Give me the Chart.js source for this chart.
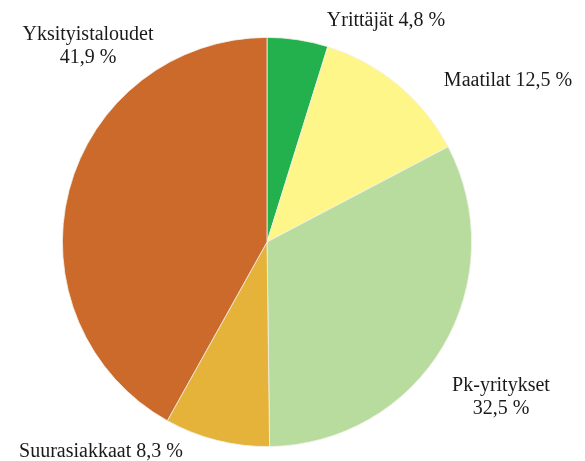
<!DOCTYPE html>
<html>
<head>
<meta charset="utf-8">
<script src="https://cdn.jsdelivr.net/npm/chart.js@4.4.0/dist/chart.umd.min.js"></script>
<style>
  html, body { margin: 0; padding: 0; background: #fff; }
  #wrap { width: 585px; height: 461px; }
</style>
</head>
<body>
<div id="wrap"><canvas id="chartPie"></canvas></div>
<script>
const categories = ['Yrittäjät', 'Maatilat', 'Pk-yritykset', 'Suurasiakkaat', 'Yksityistaloudet'];
const shares = [4.8, 12.5, 32.5, 8.3, 41.9];
const colors = ['#23b14d', '#fff68a', '#b7dc9d', '#e5b23a', '#cb6a2b'];

// label text lines per slice (Finnish decimal comma)
function labelLines(i) {
    const pct = shares[i].toFixed(1).replace('.', ',') + ' %';
    if (i === 2 || i === 4) return [categories[i], pct];
    return [categories[i] + ' ' + pct];
}

// where each label sits (center x, center y of first line)
const labelPos = [
    { x: 386, y: 21 },
    { x: 508, y: 81 },
    { x: 501, y: 386 },
    { x: 101, y: 452 },
    { x: 88, y: 35 }
];

const sliceLabels = {
    id: 'sliceLabels',
    afterDraw(chart) {
        const ctx = chart.ctx;
        ctx.save();
        ctx.font = '20px "Liberation Serif", "DejaVu Serif", serif';
        ctx.fillStyle = '#1a1a1a';
        ctx.textAlign = 'center';
        ctx.textBaseline = 'middle';
        categories.forEach((c, i) => {
            labelLines(i).forEach((line, j) => {
                ctx.fillText(line, labelPos[i].x, labelPos[i].y + j * 23);
            });
        });
        ctx.restore();
    }
};

const ctx = document.getElementById('chartPie').getContext('2d');
new Chart(ctx, {
    type: 'pie',
    data: {
        labels: categories,
        datasets: [{
            data: shares,
            backgroundColor: colors,
            borderColor: '#f4f1ea',
            borderWidth: 0.8
        }]
    },
    options: {
        responsive: true,
        maintainAspectRatio: false,
        animation: false,
        layout: {
            padding: { top: 37, bottom: 14, left: 62, right: 113 }
        },
        plugins: {
            legend: { display: false },
            tooltip: { enabled: false }
        }
    },
    plugins: [sliceLabels]
});
</script>
</body>
</html>
